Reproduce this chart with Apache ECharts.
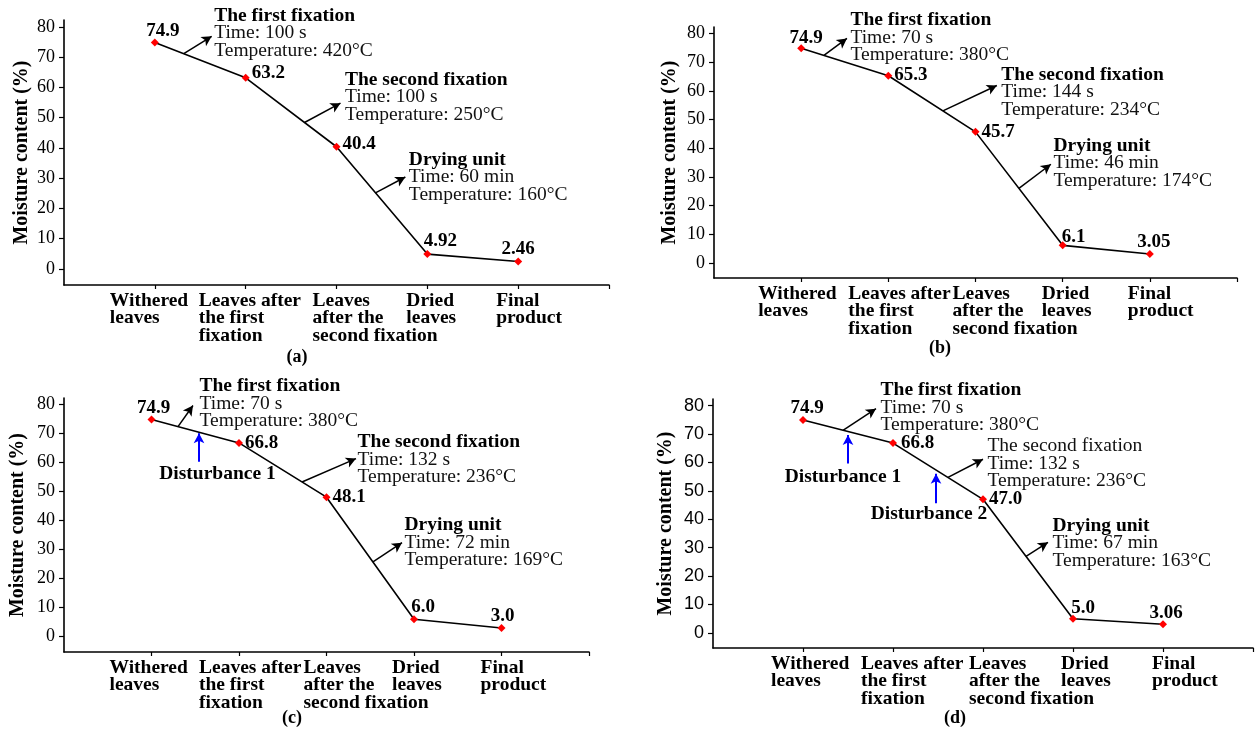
<!DOCTYPE html>
<html><head><meta charset="utf-8">
<script src="https://cdn.jsdelivr.net/npm/echarts@6/dist/echarts.min.js"></script>
<style>html,body{margin:0;padding:0;background:#fff}#c{width:1255px;height:731px}</style>
</head><body><div id="c"></div>
<script>
// ---------- data ----------
const categories = ['Withered\nleaves', 'Leaves after\nthe first\nfixation', 'Leaves\nafter the\nsecond fixation', 'Dried\nleaves', 'Final\nproduct'];
const yTickValues = [0, 10, 20, 30, 40, 50, 60, 70, 80];
const panelNames = ['(a)', '(b)', '(c)', '(d)'];
const yAxisTitle = 'Moisture content (%)';

const moistureA = [74.9, 63.2, 40.4, 4.92, 2.46];
const moistureB = [74.9, 65.3, 45.7, 6.1, 3.05];
const moistureC = [74.9, 66.8, 48.1, 6.0, 3.0];
const moistureD = [74.9, 66.8, 47.0, 5.0, 3.06];
const decimalsA = [1, 1, 1, 2, 2];
const decimalsB = [1, 1, 1, 1, 2];
const decimalsC = [1, 1, 1, 1, 1];
const decimalsD = [1, 1, 1, 1, 2];

const stepsA = [['The first fixation', 'Time: 100 s', 'Temperature: 420°C'],
                ['The second fixation', 'Time: 100 s', 'Temperature: 250°C'],
                ['Drying unit', 'Time: 60 min', 'Temperature: 160°C']];
const stepsB = [['The first fixation', 'Time: 70 s', 'Temperature: 380°C'],
                ['The second fixation', 'Time: 144 s', 'Temperature: 234°C'],
                ['Drying unit', 'Time: 46 min', 'Temperature: 174°C']];
const stepsC = [['The first fixation', 'Time: 70 s', 'Temperature: 380°C'],
                ['The second fixation', 'Time: 132 s', 'Temperature: 236°C'],
                ['Drying unit', 'Time: 72 min', 'Temperature: 169°C']];
const stepsD = [['The first fixation', 'Time: 70 s', 'Temperature: 380°C'],
                ['The second fixation', 'Time: 132 s', 'Temperature: 236°C'],
                ['Drying unit', 'Time: 67 min', 'Temperature: 163°C']];
const disturbancesC = ['Disturbance 1'];
const disturbancesD = ['Disturbance 1', 'Disturbance 2'];

// ---------- layout / annotation placement ----------
const SERIF = '"Liberation Serif", "Times New Roman", serif';
const XL_SIZE = 19.5;
const panels = [
  { values: moistureA, decimals: decimalsA, steps: stepsA, dist: [],
    grid: { left: 64, top: 20, width: 545, height: 265 }, caption: [297, 357], nameGap: 32,
    tickFont: SERIF, secondBold: true,
    labelOffsets: [-45, -47, -24, -21, -22],
    vLabels: [['top', 8, 2], ['right', 0, -5], ['right', 0, -3], ['top', 13, 1], ['top', 0, 1]],
    arrowT: [0.319, 0.648, 0.429], arrowEnd: [[0.626, 76.9], [2.044, 54.8], [2.758, 30.4]],
    textAt: [[0.648, 77.9], [2.088, 56.8], [2.791, 30.4]], distArrows: [], distText: [] },
  { values: moistureB, decimals: decimalsB, steps: stepsB, dist: [],
    grid: { left: 714, top: 27, width: 523, height: 251 }, caption: [940, 348], nameGap: 34,
    tickFont: SERIF, secondBold: true,
    labelOffsets: [-43, -40, -23, -21, -22],
    vLabels: [['top', 5, 3], ['right', 0, -1], ['right', 0, 0], ['top', 11, 5], ['top', 4, 2]],
    arrowT: [0.261, 0.626, 0.498], arrowEnd: [[0.525, 78.3], [2.245, 61.9], [2.865, 34.4]],
    textAt: [[0.56, 78.6], [2.291, 59.5], [2.888, 34.8]], distArrows: [], distText: [] },
  { values: moistureC, decimals: decimalsC, steps: stepsC, dist: disturbancesC,
    grid: { left: 64, top: 398, width: 525, height: 254 }, caption: [292, 718], nameGap: 36,
    tickFont: SERIF, secondBold: true,
    labelOffsets: [-42, -40, -23, -22, -21],
    vLabels: [['top', 2, 2], ['right', 0, 0], ['right', 0, 0], ['top', 9, 1], ['top', 1, 2]],
    arrowT: [0.303, 0.72, 0.531], arrowEnd: [[0.474, 79.7], [2.337, 61.4], [2.863, 32.4]],
    textAt: [[0.543, 80.3], [2.349, 61.0], [2.886, 32.4]],
    distArrows: [[0.543, 60.3, 70.1]], distText: [[0.754, 56.2]] },
  { values: moistureD, decimals: decimalsD, steps: stepsD, dist: disturbancesD,
    grid: { left: 713, top: 399, width: 540, height: 249 }, caption: [955, 718], nameGap: 37,
    tickFont: '"Liberation Sans Narrow", "Liberation Sans", Arial, sans-serif', secondBold: false,
    labelOffsets: [-32, -32, -14, -12, -11],
    vLabels: [['top', 4, 2], ['right', 2, 0], ['right', 0, 0], ['top', 10, 3], ['top', 3, 2]],
    arrowT: [0.444, 0.611, 0.478], arrowEnd: [[0.811, 78.9], [2.0, 61.1], [2.722, 31.9]],
    textAt: [[0.856, 79.3], [2.044, 59.6], [2.767, 31.6]],
    distArrows: [[0.5, 59.6, 69.6], [1.478, 45.6, 56.0]], distText: [[0.444, 54.7], [1.4, 41.8]] }
];

// measure category label widths with the real font
const mctx = document.createElement('canvas').getContext('2d');
mctx.font = 'bold ' + XL_SIZE + 'px ' + SERIF;
const catWidths = categories.map(c => Math.ceil(Math.max.apply(null, c.split('\n').map(s => mctx.measureText(s).width))) + 1);

const grids = [], xAxes = [], yAxes = [], series = [], graphics = [];

function catFormatter(v) {
  const i = Math.round(v);
  if (i < 0 || i > 4) return '';
  return categories[i].split('\n').map(s => '{l' + i + '|' + s + '}').join('\n');
}

panels.forEach((p, k) => {
  grids.push(Object.assign({ containLabel: false, outerBoundsMode: 'none' }, p.grid));

  const rich = {};
  p.labelOffsets.forEach((off, i) => {
    const W = catWidths[i];
    const s = 2 * off + W;
    rich['l' + i] = { width: W, align: 'left', padding: s >= 0 ? [0, 0, 0, s] : [0, -s, 0, 0],
      fontFamily: SERIF, fontWeight: 'bold', fontSize: XL_SIZE, lineHeight: 17.5, color: '#000' };
  });

  const baseLabel = { show: true, margin: 7, align: 'center', verticalAlign: 'top',
    interval: 0, showMinLabel: true, showMaxLabel: true, hideOverlap: false,
    formatter: catFormatter, rich: rich };

  // main x axis: line, ticks and labels of categories 0, 2, 4
  xAxes.push({
    type: 'value', gridIndex: k, min: -1, max: 5, position: 'bottom',
    splitLine: { show: false },
    axisLine: { show: true, onZero: false, lineStyle: { color: '#000', width: 1.6 } },
    axisTick: { show: true, length: 4, customValues: [0, 1, 2, 3, 4, 5], lineStyle: { color: '#000', width: 1.2 } },
    axisLabel: Object.assign({ customValues: [0, 2, 4] }, baseLabel)
  });
  // companion x axis on the same scale: labels of categories 1, 3
  xAxes.push({
    type: 'value', gridIndex: k, min: -1, max: 5, position: 'bottom', offset: 0,
    splitLine: { show: false },
    axisLine: { show: false, onZero: false },
    axisTick: { show: false },
    axisLabel: Object.assign({ customValues: [1, 3] }, baseLabel)
  });

  yAxes.push({
    type: 'value', gridIndex: k, min: -5.3, max: 82.3,
    name: yAxisTitle, nameLocation: 'middle', nameGap: p.nameGap,
    nameTextStyle: { fontFamily: SERIF, fontWeight: 'bold', fontSize: 20, color: '#000' },
    splitLine: { show: false },
    axisLine: { show: true, onZero: false, lineStyle: { color: '#000', width: 1.6 } },
    axisTick: { show: true, length: 5, customValues: yTickValues, lineStyle: { color: '#000', width: 1.2 } },
    axisLabel: { show: true, margin: 9, customValues: yTickValues, interval: 0, showMinLabel: true, showMaxLabel: true,
      fontFamily: p.tickFont, fontSize: 18, color: '#000' }
  });

  const lineData = p.values.map((v, i) => {
    const lp = p.vLabels[i];
    return {
      value: [i, v],
      label: { show: true, position: lp[0], distance: lp[0] === 'top' ? 0 : 2, offset: [lp[1], lp[2]],
        formatter: () => v.toFixed(p.decimals[i]) }
    };
  });

  // annotation arrows (start on the line segment, interpolated from data)
  const arrowLines = p.arrowT.map((t, s) => {
    const x0 = s + t;
    const y0 = p.values[s] + (p.values[s + 1] - p.values[s]) * t;
    return [{ coord: [x0, y0] }, { coord: p.arrowEnd[s] }];
  });
  const blueLines = p.distArrows.map(a => [
    { coord: [a[0], a[1]], lineStyle: { color: '#0000ff', width: 2 } },
    { coord: [a[0], a[2]] }
  ]);

  const stepPoints = p.steps.map((st, s) => {
    const titleStyle = (s === 1 && !p.secondBold) ? 'n' : 't';
    return {
      coord: p.textAt[s], value: 0,
      label: { show: true, position: 'right', distance: 0,
        formatter: '{' + titleStyle + '|' + st[0] + '}\n{n|' + st[1] + '}\n{n|' + st[2] + '}' }
    };
  });
  const distPoints = p.dist.map((d, j) => ({
    coord: p.distText[j], value: 0,
    label: { show: true, position: 'inside', align: 'center', verticalAlign: 'middle',
      formatter: '{d|' + d + '}' }
  }));

  series.push({
    type: 'line', xAxisIndex: 2 * k, yAxisIndex: k, clip: false,
    data: lineData,
    symbol: 'diamond', symbolSize: 8, showAllSymbol: true,
    itemStyle: { color: '#ff0000' },
    lineStyle: { color: '#000', width: 1.6 },
    label: { fontFamily: SERIF, fontWeight: 'bold', fontSize: 19, color: '#000' },
    emphasis: { disabled: true },
    markLine: {
      silent: true, symbol: ['none', 'arrow'], symbolSize: [8, 10],
      label: { show: false }, emphasis: { disabled: true },
      lineStyle: { color: '#000', width: 1.5, type: 'solid' },
      data: arrowLines.concat(blueLines)
    },
    markPoint: {
      silent: true, symbol: 'circle', symbolSize: 1,
      itemStyle: { color: 'rgba(0,0,0,0)' },
      label: {
        color: '#111',
        rich: {
          t: { fontFamily: SERIF, fontWeight: 'bold', fontSize: 19.5, lineHeight: 17.5, color: '#000' },
          n: { fontFamily: SERIF, fontSize: 19.5, lineHeight: 17.5, color: '#111' },
          d: { fontFamily: SERIF, fontWeight: 'bold', fontSize: 19.5, lineHeight: 18, color: '#000' }
        }
      },
      data: stepPoints.concat(distPoints)
    }
  });

  graphics.push({
    type: 'text', x: p.caption[0], y: p.caption[1],
    style: { text: panelNames[k], font: 'bold 18px ' + SERIF, textAlign: 'center', textVerticalAlign: 'middle', fill: '#000' }
  });
});

const chart = echarts.init(document.getElementById('c'), null, { renderer: 'canvas' });
chart.setOption({
  animation: false,
  backgroundColor: '#fff',
  grid: grids, xAxis: xAxes, yAxis: yAxes, series: series,
  graphic: graphics
});
</script>
</body></html>
